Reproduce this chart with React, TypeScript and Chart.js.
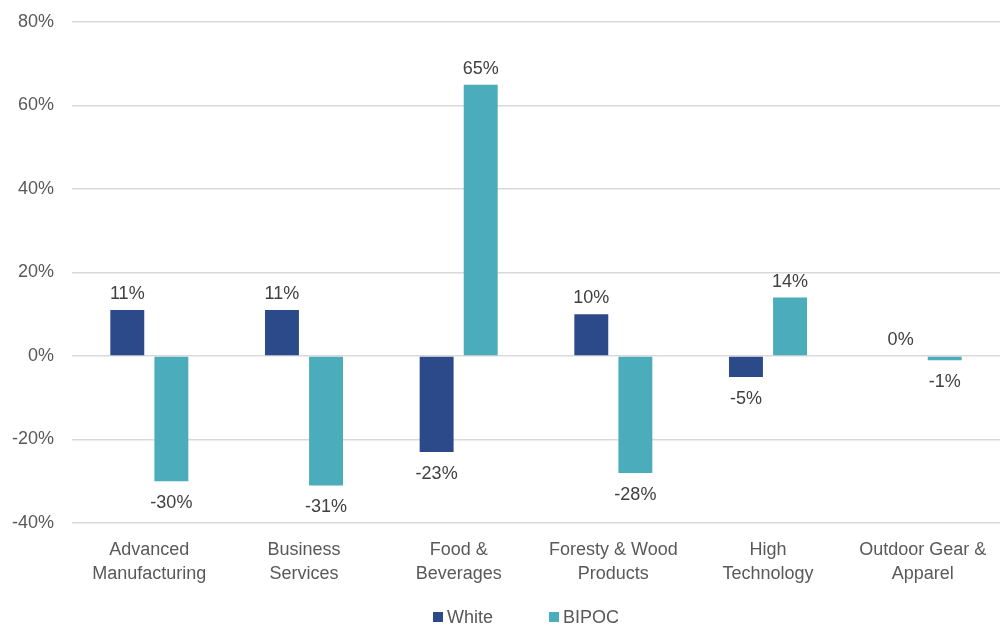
import React, { useEffect, useRef } from "react";
import { Chart, registerables } from "chart.js";

Chart.register(...registerables);

const categories: string[][] = [
  ["Advanced", "Manufacturing"],
  ["Business", "Services"],
  ["Food &", "Beverages"],
  ["Foresty & Wood", "Products"],
  ["High", "Technology"],
  ["Outdoor Gear &", "Apparel"],
];
const whiteValues = [11, 11, -23, 10, -5, 0];
const bipocValues = [-30, -31, 65, -28, 14, -1];
const yTicks = [-40, -20, 0, 20, 40, 60, 80];
const seriesNames = ["White", "BIPOC"];
const seriesColors = ["#2C4A8A", "#4BACBC"];

const FONT = "'Liberation Sans', Arial, sans-serif";
const TEXT = "#595959";

const labelPlugin = {
  id: "barLabels",
  afterDatasetsDraw(chart: any) {
    const ctx = chart.ctx;
    ctx.save();
    ctx.font = `18px ${FONT}`;
    ctx.fillStyle = "#404040";
    ctx.textAlign = "center";
    chart.data.datasets.forEach((ds: any, di: number) => {
      const meta = chart.getDatasetMeta(di);
      meta.data.forEach((bar: any, i: number) => {
        const v = ds.data[i];
        const txt = `${v}%`;
        if (v >= 0) {
          ctx.textBaseline = "bottom";
          ctx.fillText(txt, bar.x, bar.y - 7);
        } else {
          ctx.textBaseline = "top";
          ctx.fillText(txt, bar.x, bar.y + 13);
        }
      });
    });
    ctx.restore();
  },
};

const legendPlugin = {
  id: "customLegend",
  afterDraw(chart: any) {
    const ctx = chart.ctx;
    ctx.save();
    ctx.font = `18px ${FONT}`;
    ctx.textBaseline = "middle";
    ctx.textAlign = "left";
    const y = 617;
    const starts = [433, 549];
    seriesNames.forEach((name, i) => {
      const x = starts[i];
      ctx.fillStyle = seriesColors[i];
      ctx.fillRect(x, y - 5, 10, 10);
      ctx.fillStyle = TEXT;
      ctx.fillText(name, x + 14, y + 1);
    });
    ctx.restore();
  },
};

export default function App() {
  const ref = useRef<HTMLCanvasElement>(null);
  useEffect(() => {
    document.body.style.margin = "0";
    const chart = new Chart(ref.current!, {
      type: "bar",
      data: {
        labels: categories,
        datasets: seriesNames.map((name, i) => ({
          label: name,
          data: i === 0 ? whiteValues : bipocValues,
          backgroundColor: seriesColors[i],
          categoryPercentage: 0.57,
          barPercentage: 0.77,
        })),
      },
      options: {
        responsive: false,
        animation: false,
        layout: { padding: { top: 22, left: 0, right: 0, bottom: 0 } },
        scales: {
          x: {
            grid: { display: false, drawTicks: false },
            border: { display: false },
            afterFit: (axis: any) => {
              axis.height = 102;
              axis.paddingLeft = 0;
              axis.paddingRight = 0;
            },
            ticks: {
              color: TEXT,
              font: { family: FONT, size: 18, lineHeight: "24px" },
              padding: 15,
              maxRotation: 0,
              autoSkip: false,
            },
          },
          y: {
            min: -40,
            max: 80,
            afterBuildTicks: (axis: any) => {
              axis.ticks = yTicks.map((v) => ({ value: v }));
            },
            afterFit: (axis: any) => {
              axis.width = 72;
              axis.paddingTop = 0;
              axis.paddingBottom = 0;
            },
            grid: { color: "#D9D9D9", lineWidth: 1.5, drawTicks: false },
            border: { display: false },
            ticks: {
              color: TEXT,
              font: { family: FONT, size: 18 },
              padding: 18,
              callback: (v: any) => `${v}%`,
            },
          },
        },
        plugins: {
          legend: { display: false },
          tooltip: { enabled: false },
        },
      },
      plugins: [labelPlugin, legendPlugin],
    });
    return () => chart.destroy();
  }, []);
  return (
    <div style={{ position: "absolute", left: 0, top: 0, width: 1000, height: 625 }}>
      <canvas ref={ref} width={1000} height={625} />
    </div>
  );
}
